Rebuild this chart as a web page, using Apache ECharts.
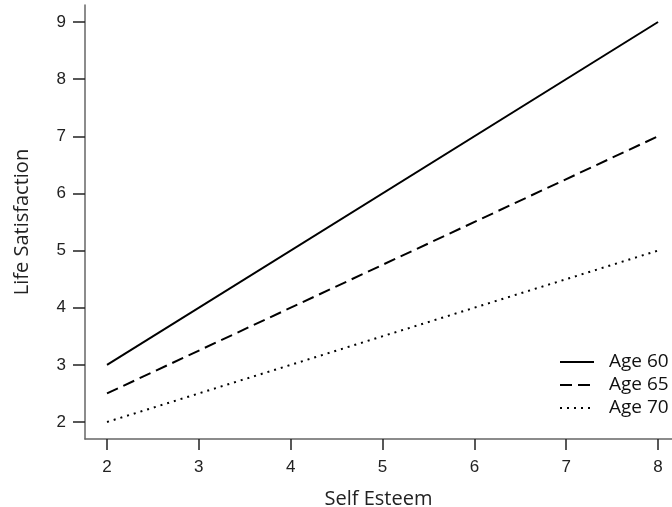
<!DOCTYPE html>
<html>
<head>
<meta charset="utf-8">
<script src="https://cdn.jsdelivr.net/npm/echarts@6/dist/echarts.min.js"></script>
<style>
  html, body { margin: 0; padding: 0; background: #fff; }
  #chart { width: 672px; height: 507px; }
</style>
</head>
<body>
<div id="chart"></div>
<script>
// data
const esteem = [2, 8]
const age60 = [3, 9]
const age65 = [2.5, 7]
const age70 = [2, 5]
const xTicks = [2, 3, 4, 5, 6, 7, 8]
const yTicks = [2, 3, 4, 5, 6, 7, 8, 9]
const seriesNames = ['Age 60', 'Age 65', 'Age 70']

const pairs = ys => esteem.map((x, i) => [x, ys[i]])

const chart = echarts.init(document.getElementById('chart'))

const lineSeries = (name, ys, type) => ({
  name,
  type: 'line',
  data: pairs(ys),
  symbol: 'none',
  lineStyle: { color: '#000', width: 2, type },
  itemStyle: { color: '#000' }
})

chart.setOption({
  animation: false,
  grid: { left: 85, right: 0, top: 5, bottom: 68, outerBoundsMode: 'none' },
  legend: {
    orient: 'vertical',
    left: 554,
    top: 347,
    itemWidth: 34,
    itemHeight: 14,
    itemGap: 3,
    data: seriesNames,
    itemStyle: { opacity: 0 },
    textStyle: { fontFamily: 'Open Sans', fontSize: 19, lineHeight: 20, color: '#111', padding: [0, 0, 0, 10] }
  },
  xAxis: {
    type: 'value',
    min: 1.7604,
    max: 8.152,
    name: 'Self Esteem',
    nameLocation: 'middle',
    nameGap: 50,
    nameTextStyle: { fontFamily: 'Open Sans', fontSize: 20, color: '#222' },
    axisLine: { lineStyle: { color: '#666', width: 1.5 } },
    axisTick: { customValues: xTicks, length: 11, lineStyle: { color: '#222', width: 1.5 } },
    axisLabel: { customValues: xTicks, margin: 20, fontFamily: 'Liberation Sans', fontSize: 17, color: '#222' },
    splitLine: { show: false }
  },
  yAxis: {
    type: 'value',
    min: 1.7025,
    max: 9.2975,
    name: 'Life Satisfaction',
    nameLocation: 'middle',
    nameGap: 53,
    nameRotate: 90,
    nameTextStyle: { fontFamily: 'Open Sans', fontSize: 20, color: '#222' },
    axisLine: { show: true, lineStyle: { color: '#666', width: 1.5 } },
    axisTick: { show: true, customValues: yTicks, length: 12, lineStyle: { color: '#222', width: 1.5 } },
    axisLabel: { customValues: yTicks, margin: 19, fontFamily: 'Liberation Sans', fontSize: 17, color: '#222' },
    splitLine: { show: false }
  },
  series: [
    lineSeries(seriesNames[0], age60, 'solid'),
    lineSeries(seriesNames[1], age65, [12, 6]),
    lineSeries(seriesNames[2], age70, [2, 5])
  ]
})
</script>
</body>
</html>
